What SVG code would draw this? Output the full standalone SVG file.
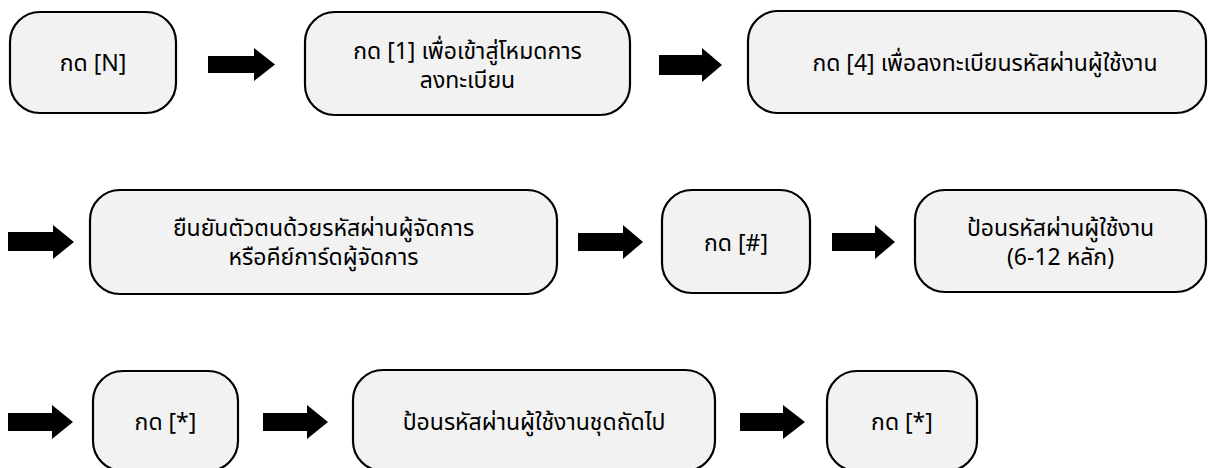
<svg xmlns="http://www.w3.org/2000/svg" width="1211" height="468" viewBox="0 0 1211 468">
<defs>
<style>
.box{fill:#f2f2f2;stroke:#000;stroke-width:2.2}
.t{font-family:"Noto Sans Thai","Noto Sans",sans-serif;font-size:23px;fill:#000;text-anchor:middle}
.arr{fill:#000}
</style>
</defs>
<rect width="1211" height="468" fill="#fff"/>
<g id="connectors">
<path class="arr" d="M208,56 H254 V48 L275,64.5 L254,81 V73 H208 Z"/>
<path class="arr" d="M659,55 H702 V48 L722,65 L702,82 V75 H659 Z"/>
<path class="arr" d="M8,232 H53 V225 L74,242 L53,259 V251 H8 Z"/>
<path class="arr" d="M578,233 H623 V225 L643,242 L623,259 V251 H578 Z"/>
<path class="arr" d="M832,233 H875 V225 L895,242 L875,259 V251 H832 Z"/>
<path class="arr" d="M8,413 H52 V405 L73,422 L52,439 V431 H8 Z"/>
<path class="arr" d="M263,413 H307 V405 L328,422 L307,439 V431 H263 Z"/>
<path class="arr" d="M740,413 H783 V405 L805,422 L783,439 V431 H740 Z"/>
</g>
<g id="n1"><rect class="box" x="10" y="12" width="166" height="101" rx="30"/><text class="t" x="93" y="71">กด [N]</text></g>
<g id="n2"><rect class="box" x="305" y="12" width="325" height="103" rx="30"/><text class="t" x="467.5" y="59">กด [1] เพื่อเข้าสู่โหมดการ</text><text class="t" x="467.5" y="88">ลงทะเบียน</text></g>
<g id="n3"><rect class="box" x="748" y="11" width="458" height="102" rx="30"/><text class="t" x="985" y="71">กด [4] เพื่อลงทะเบียนรหัสผ่านผู้ใช้งาน</text></g>
<g id="n4"><rect class="box" x="90" y="190" width="467" height="104" rx="30"/><text class="t" x="323.5" y="236">ยืนยันตัวตนด้วยรหัสผ่านผู้จัดการ</text><text class="t" x="323.5" y="265">หรือคีย์การ์ดผู้จัดการ</text></g>
<g id="n5"><rect class="box" x="662" y="190" width="148" height="103" rx="30"/><text class="t" x="736" y="251">กด [#]</text></g>
<g id="n6"><rect class="box" x="915" y="190" width="291" height="102" rx="30"/><text class="t" x="1060.5" y="236">ป้อนรหัสผ่านผู้ใช้งาน</text><text class="t" x="1060.5" y="265">(6-12 หลัก)</text></g>
<g id="n7"><rect class="box" x="93" y="371" width="145" height="100" rx="30"/><text class="t" x="165.5" y="430">กด [*]</text></g>
<g id="n8"><rect class="box" x="353" y="370" width="362" height="101" rx="30"/><text class="t" x="534" y="430">ป้อนรหัสผ่านผู้ใช้งานชุดถัดไป</text></g>
<g id="n9"><rect class="box" x="827" y="371" width="150" height="100" rx="30"/><text class="t" x="902" y="430">กด [*]</text></g>
</svg>
